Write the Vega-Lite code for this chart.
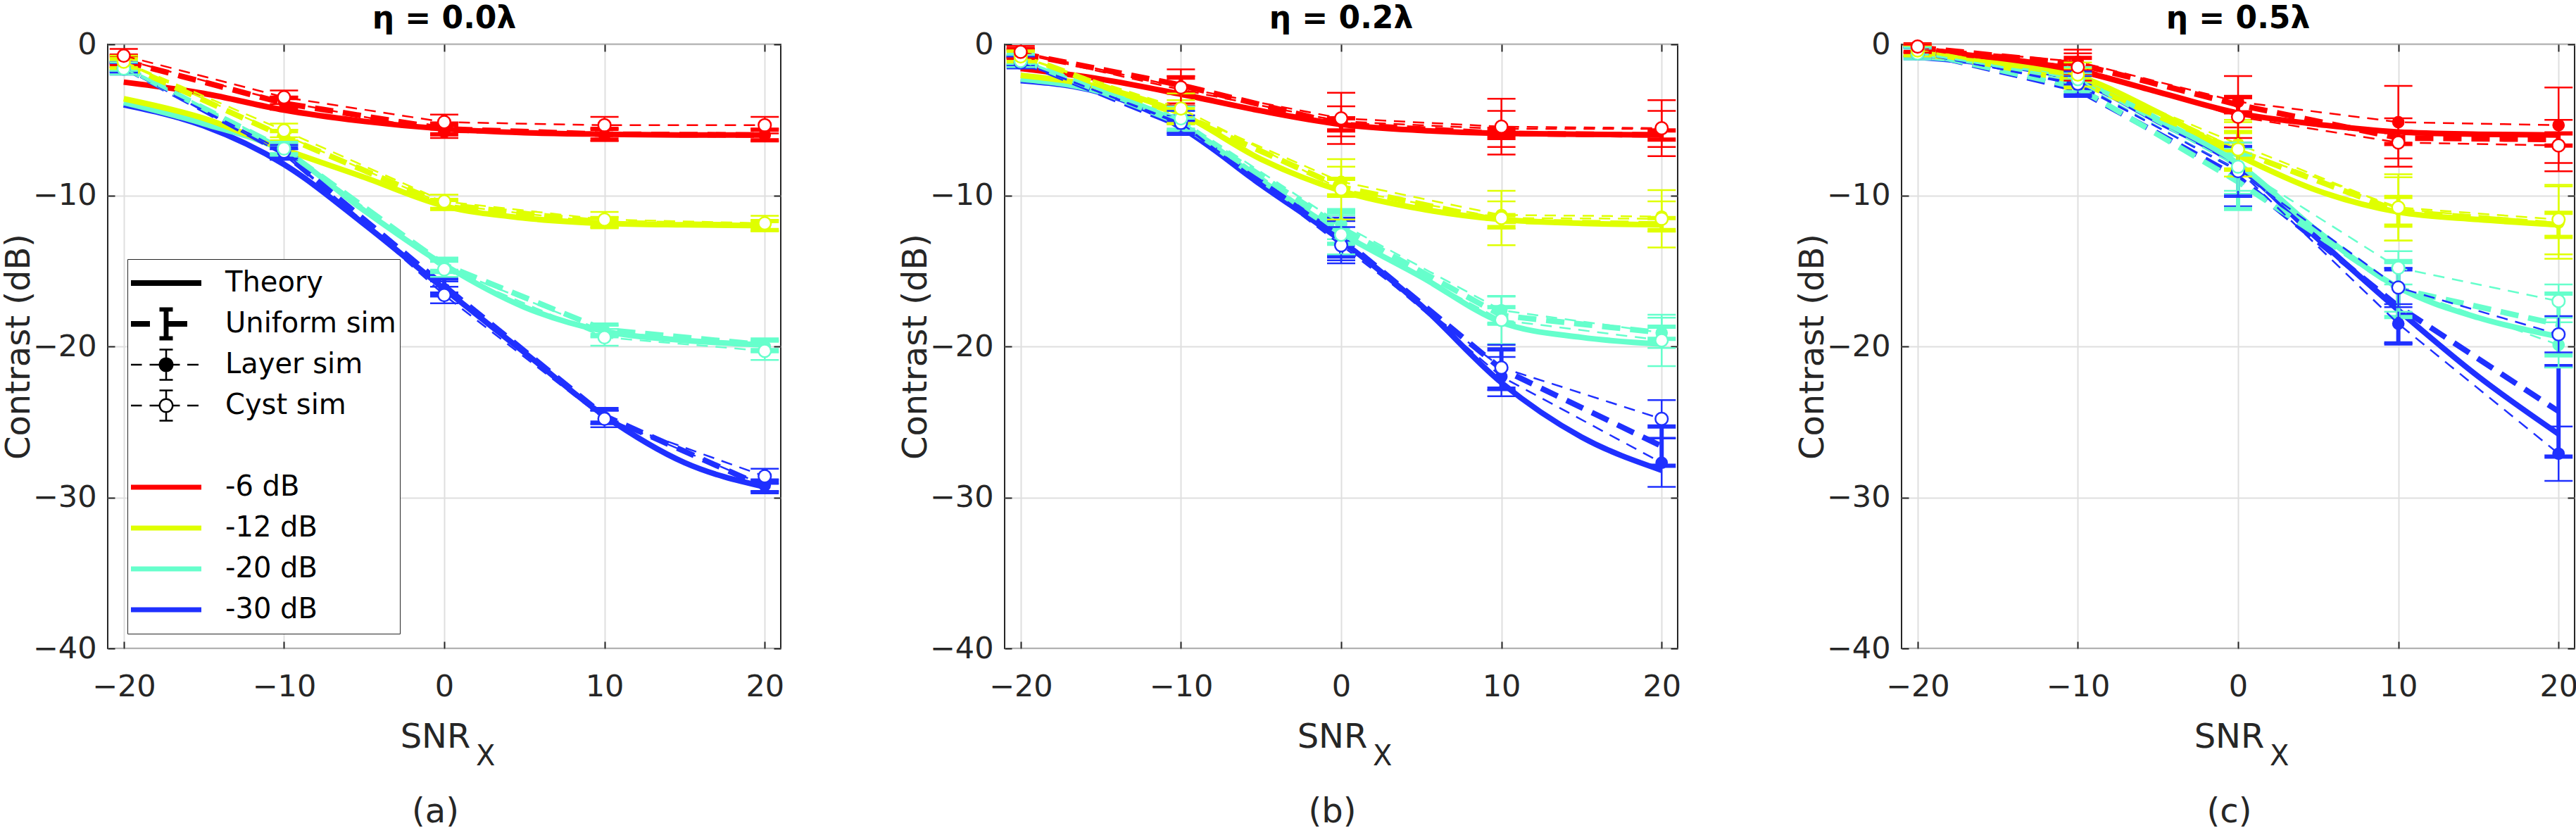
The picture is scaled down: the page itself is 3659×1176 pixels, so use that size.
{
"$schema":"https://vega.github.io/schema/vega-lite/v6.json",
"background":"white",
"padding":{"left":2,"top":4,"right":0,"bottom":0},
"config":{
 "view":{"stroke":"#262626","strokeWidth":2},
 "font":"DejaVu Sans",
 "axis":{"labelFont":"DejaVu Sans","labelFontSize":43,"labelColor":"#262626","titleFont":"DejaVu Sans","titleFontSize":48,"titleFontWeight":"normal","titleColor":"#262626","gridColor":"#dfdfdf","gridWidth":2,"tickColor":"#262626","tickWidth":2,"domain":false,"labelFlush":false,"labelOverlap":false},
 "title":{"font":"DejaVu Sans","fontSize":44,"fontWeight":"bold","color":"black","anchor":"middle","frame":"group","offset":-7,"baseline":"alphabetic"},
 "point":{"opacity":1},
 "tick":{"opacity":1}
},
"datasets":{
"lg":[{"key":"Theory"},{"key":"Uniform sim"},{"key":"Layer sim"},{"key":"Cyst sim"},{"key":" "},{"key":"-6 dB"},{"key":"-12 dB"},{"key":"-20 dB"},{"key":"-30 dB"}],
"th":[
{"p":"a","t":"-30 dB","x":-20,"y":-4.0},{"p":"a","t":"-30 dB","x":-15,"y":-5.4},{"p":"a","t":"-30 dB","x":-10,"y":-7.95},{"p":"a","t":"-30 dB","x":-5,"y":-11.9},{"p":"a","t":"-30 dB","x":0,"y":-16.2},{"p":"a","t":"-30 dB","x":5,"y":-20.4},{"p":"a","t":"-30 dB","x":10,"y":-24.6},{"p":"a","t":"-30 dB","x":15,"y":-27.7},{"p":"a","t":"-30 dB","x":20,"y":-29.3},
{"p":"a","t":"-20 dB","x":-20,"y":-3.85},{"p":"a","t":"-20 dB","x":-15,"y":-5.25},{"p":"a","t":"-20 dB","x":-10,"y":-7.1},{"p":"a","t":"-20 dB","x":-5,"y":-11.0},{"p":"a","t":"-20 dB","x":0,"y":-14.6},{"p":"a","t":"-20 dB","x":5,"y":-17.4},{"p":"a","t":"-20 dB","x":10,"y":-19.0},{"p":"a","t":"-20 dB","x":15,"y":-19.6},{"p":"a","t":"-20 dB","x":20,"y":-19.9},
{"p":"a","t":"-12 dB","x":-20,"y":-3.6},{"p":"a","t":"-12 dB","x":-15,"y":-4.9},{"p":"a","t":"-12 dB","x":-10,"y":-6.95},{"p":"a","t":"-12 dB","x":-5,"y":-8.8},{"p":"a","t":"-12 dB","x":0,"y":-10.7},{"p":"a","t":"-12 dB","x":5,"y":-11.5},{"p":"a","t":"-12 dB","x":10,"y":-11.85},{"p":"a","t":"-12 dB","x":15,"y":-11.95},{"p":"a","t":"-12 dB","x":20,"y":-12.0},
{"p":"a","t":"-6 dB","x":-20,"y":-2.5},{"p":"a","t":"-6 dB","x":-15,"y":-3.25},{"p":"a","t":"-6 dB","x":-10,"y":-4.35},{"p":"a","t":"-6 dB","x":-5,"y":-5.1},{"p":"a","t":"-6 dB","x":0,"y":-5.6},{"p":"a","t":"-6 dB","x":5,"y":-5.85},{"p":"a","t":"-6 dB","x":10,"y":-5.95},{"p":"a","t":"-6 dB","x":15,"y":-6.0},{"p":"a","t":"-6 dB","x":20,"y":-6.0},
{"p":"b","t":"-30 dB","x":-20,"y":-2.4},{"p":"b","t":"-30 dB","x":-15,"y":-3.2},{"p":"b","t":"-30 dB","x":-10,"y":-5.5},{"p":"b","t":"-30 dB","x":-5,"y":-9.3},{"p":"b","t":"-30 dB","x":0,"y":-13.0},{"p":"b","t":"-30 dB","x":5,"y":-17.3},{"p":"b","t":"-30 dB","x":10,"y":-22.4},{"p":"b","t":"-30 dB","x":15,"y":-26.0},{"p":"b","t":"-30 dB","x":20,"y":-28.2},
{"p":"b","t":"-20 dB","x":-20,"y":-2.3},{"p":"b","t":"-20 dB","x":-15,"y":-3.15},{"p":"b","t":"-20 dB","x":-10,"y":-5.3},{"p":"b","t":"-20 dB","x":-5,"y":-9.0},{"p":"b","t":"-20 dB","x":0,"y":-12.5},{"p":"b","t":"-20 dB","x":5,"y":-15.4},{"p":"b","t":"-20 dB","x":10,"y":-18.4},{"p":"b","t":"-20 dB","x":15,"y":-19.4},{"p":"b","t":"-20 dB","x":20,"y":-19.85},
{"p":"b","t":"-12 dB","x":-20,"y":-2.05},{"p":"b","t":"-12 dB","x":-15,"y":-2.85},{"p":"b","t":"-12 dB","x":-10,"y":-4.6},{"p":"b","t":"-12 dB","x":-5,"y":-7.6},{"p":"b","t":"-12 dB","x":0,"y":-9.7},{"p":"b","t":"-12 dB","x":5,"y":-10.9},{"p":"b","t":"-12 dB","x":10,"y":-11.6},{"p":"b","t":"-12 dB","x":15,"y":-11.85},{"p":"b","t":"-12 dB","x":20,"y":-11.95},
{"p":"b","t":"-6 dB","x":-20,"y":-1.6},{"p":"b","t":"-6 dB","x":-15,"y":-2.3},{"p":"b","t":"-6 dB","x":-10,"y":-3.3},{"p":"b","t":"-6 dB","x":-5,"y":-4.4},{"p":"b","t":"-6 dB","x":0,"y":-5.3},{"p":"b","t":"-6 dB","x":5,"y":-5.7},{"p":"b","t":"-6 dB","x":10,"y":-5.9},{"p":"b","t":"-6 dB","x":15,"y":-5.95},{"p":"b","t":"-6 dB","x":20,"y":-6.0},
{"p":"c","t":"-30 dB","x":-20,"y":-0.85},{"p":"c","t":"-30 dB","x":-15,"y":-1.35},{"p":"c","t":"-30 dB","x":-10,"y":-2.4},{"p":"c","t":"-30 dB","x":-5,"y":-5.1},{"p":"c","t":"-30 dB","x":0,"y":-8.05},{"p":"c","t":"-30 dB","x":5,"y":-12.9},{"p":"c","t":"-30 dB","x":10,"y":-17.6},{"p":"c","t":"-30 dB","x":15,"y":-22.0},{"p":"c","t":"-30 dB","x":20,"y":-25.8},
{"p":"c","t":"-20 dB","x":-20,"y":-0.8},{"p":"c","t":"-20 dB","x":-15,"y":-1.3},{"p":"c","t":"-20 dB","x":-10,"y":-2.3},{"p":"c","t":"-20 dB","x":-5,"y":-4.95},{"p":"c","t":"-20 dB","x":0,"y":-7.9},{"p":"c","t":"-20 dB","x":5,"y":-12.4},{"p":"c","t":"-20 dB","x":10,"y":-16.1},{"p":"c","t":"-20 dB","x":15,"y":-18.1},{"p":"c","t":"-20 dB","x":20,"y":-19.35},
{"p":"c","t":"-12 dB","x":-20,"y":-0.7},{"p":"c","t":"-12 dB","x":-15,"y":-1.15},{"p":"c","t":"-12 dB","x":-10,"y":-2.1},{"p":"c","t":"-12 dB","x":-5,"y":-4.5},{"p":"c","t":"-12 dB","x":0,"y":-7.35},{"p":"c","t":"-12 dB","x":5,"y":-9.7},{"p":"c","t":"-12 dB","x":10,"y":-11.1},{"p":"c","t":"-12 dB","x":15,"y":-11.6},{"p":"c","t":"-12 dB","x":20,"y":-11.95},
{"p":"c","t":"-6 dB","x":-20,"y":-0.45},{"p":"c","t":"-6 dB","x":-15,"y":-0.9},{"p":"c","t":"-6 dB","x":-10,"y":-1.75},{"p":"c","t":"-6 dB","x":-5,"y":-3.15},{"p":"c","t":"-6 dB","x":0,"y":-4.55},{"p":"c","t":"-6 dB","x":5,"y":-5.3},{"p":"c","t":"-6 dB","x":10,"y":-5.8},{"p":"c","t":"-6 dB","x":15,"y":-5.95},{"p":"c","t":"-6 dB","x":20,"y":-6.0}
],
"sim":[
{"p":"a","s":"U","t":"-30 dB","x":-20,"y":-1.5,"lo":-1.8,"hi":-1.2},{"p":"a","s":"U","t":"-30 dB","x":-10,"y":-7.2,"lo":-7.55,"hi":-6.85},{"p":"a","s":"U","t":"-30 dB","x":0,"y":-16.0,"lo":-16.5,"hi":-15.5},{"p":"a","s":"U","t":"-30 dB","x":10,"y":-24.6,"lo":-25.05,"hi":-24.15},{"p":"a","s":"U","t":"-30 dB","x":20,"y":-29.3,"lo":-29.65,"hi":-28.95},
{"p":"a","s":"U","t":"-20 dB","x":-20,"y":-1.5,"lo":-1.8,"hi":-1.2},{"p":"a","s":"U","t":"-20 dB","x":-10,"y":-6.95,"lo":-7.3,"hi":-6.6},{"p":"a","s":"U","t":"-20 dB","x":0,"y":-14.6,"lo":-15.0,"hi":-14.2},{"p":"a","s":"U","t":"-20 dB","x":10,"y":-18.9,"lo":-19.25,"hi":-18.55},{"p":"a","s":"U","t":"-20 dB","x":20,"y":-19.9,"lo":-20.25,"hi":-19.55},
{"p":"a","s":"U","t":"-12 dB","x":-20,"y":-1.3,"lo":-1.6,"hi":-1.0},{"p":"a","s":"U","t":"-12 dB","x":-10,"y":-6.1,"lo":-6.45,"hi":-5.75},{"p":"a","s":"U","t":"-12 dB","x":0,"y":-10.6,"lo":-10.9,"hi":-10.3},{"p":"a","s":"U","t":"-12 dB","x":10,"y":-11.8,"lo":-12.1,"hi":-11.5},{"p":"a","s":"U","t":"-12 dB","x":20,"y":-12.0,"lo":-12.3,"hi":-11.7},
{"p":"a","s":"U","t":"-6 dB","x":-20,"y":-1.1,"lo":-1.45,"hi":-0.75},{"p":"a","s":"U","t":"-6 dB","x":-10,"y":-3.9,"lo":-4.25,"hi":-3.55},{"p":"a","s":"U","t":"-6 dB","x":0,"y":-5.6,"lo":-5.95,"hi":-5.25},{"p":"a","s":"U","t":"-6 dB","x":10,"y":-5.95,"lo":-6.3,"hi":-5.6},{"p":"a","s":"U","t":"-6 dB","x":20,"y":-6.0,"lo":-6.35,"hi":-5.65},
{"p":"a","s":"L","t":"-30 dB","x":-20,"y":-1.55,"lo":-1.85,"hi":-1.25},{"p":"a","s":"L","t":"-30 dB","x":-10,"y":-7.3,"lo":-7.65,"hi":-6.95},{"p":"a","s":"L","t":"-30 dB","x":0,"y":-16.2,"lo":-16.7,"hi":-15.7},{"p":"a","s":"L","t":"-30 dB","x":10,"y":-24.7,"lo":-25.15,"hi":-24.25},{"p":"a","s":"L","t":"-30 dB","x":20,"y":-29.2,"lo":-29.6,"hi":-28.8},
{"p":"a","s":"L","t":"-20 dB","x":-20,"y":-1.45,"lo":-1.75,"hi":-1.15},{"p":"a","s":"L","t":"-20 dB","x":-10,"y":-6.85,"lo":-7.2,"hi":-6.5},{"p":"a","s":"L","t":"-20 dB","x":0,"y":-14.75,"lo":-15.15,"hi":-14.35},{"p":"a","s":"L","t":"-20 dB","x":10,"y":-19.0,"lo":-19.4,"hi":-18.6},{"p":"a","s":"L","t":"-20 dB","x":20,"y":-20.0,"lo":-20.4,"hi":-19.6},
{"p":"a","s":"L","t":"-12 dB","x":-20,"y":-1.2,"lo":-1.5,"hi":-0.9},{"p":"a","s":"L","t":"-12 dB","x":-10,"y":-6.0,"lo":-6.35,"hi":-5.65},{"p":"a","s":"L","t":"-12 dB","x":0,"y":-10.6,"lo":-10.95,"hi":-10.25},{"p":"a","s":"L","t":"-12 dB","x":10,"y":-11.8,"lo":-12.15,"hi":-11.45},{"p":"a","s":"L","t":"-12 dB","x":20,"y":-12.0,"lo":-12.35,"hi":-11.65},
{"p":"a","s":"L","t":"-6 dB","x":-20,"y":-1.0,"lo":-1.3,"hi":-0.7},{"p":"a","s":"L","t":"-6 dB","x":-10,"y":-3.8,"lo":-4.15,"hi":-3.45},{"p":"a","s":"L","t":"-6 dB","x":0,"y":-5.8,"lo":-6.2,"hi":-5.4},{"p":"a","s":"L","t":"-6 dB","x":10,"y":-6.0,"lo":-6.4,"hi":-5.6},{"p":"a","s":"L","t":"-6 dB","x":20,"y":-6.0,"lo":-6.4,"hi":-5.6},
{"p":"a","s":"C","t":"-30 dB","x":-20,"y":-1.6,"lo":-2.0,"hi":-1.2},{"p":"a","s":"C","t":"-30 dB","x":-10,"y":-7.1,"lo":-7.55,"hi":-6.65},{"p":"a","s":"C","t":"-30 dB","x":0,"y":-16.6,"lo":-17.15,"hi":-16.05},{"p":"a","s":"C","t":"-30 dB","x":10,"y":-24.8,"lo":-25.35,"hi":-24.25},{"p":"a","s":"C","t":"-30 dB","x":20,"y":-28.6,"lo":-29.1,"hi":-28.1},
{"p":"a","s":"C","t":"-20 dB","x":-20,"y":-1.6,"lo":-2.0,"hi":-1.2},{"p":"a","s":"C","t":"-20 dB","x":-10,"y":-6.9,"lo":-7.35,"hi":-6.45},{"p":"a","s":"C","t":"-20 dB","x":0,"y":-14.9,"lo":-15.4,"hi":-14.4},{"p":"a","s":"C","t":"-20 dB","x":10,"y":-19.4,"lo":-19.95,"hi":-18.85},{"p":"a","s":"C","t":"-20 dB","x":20,"y":-20.3,"lo":-20.9,"hi":-19.7},
{"p":"a","s":"C","t":"-12 dB","x":-20,"y":-1.15,"lo":-1.55,"hi":-0.75},{"p":"a","s":"C","t":"-12 dB","x":-10,"y":-5.7,"lo":-6.15,"hi":-5.25},{"p":"a","s":"C","t":"-12 dB","x":0,"y":-10.4,"lo":-10.85,"hi":-9.95},{"p":"a","s":"C","t":"-12 dB","x":10,"y":-11.6,"lo":-12.1,"hi":-11.1},{"p":"a","s":"C","t":"-12 dB","x":20,"y":-11.85,"lo":-12.35,"hi":-11.35},
{"p":"a","s":"C","t":"-6 dB","x":-20,"y":-0.75,"lo":-1.2,"hi":-0.3},{"p":"a","s":"C","t":"-6 dB","x":-10,"y":-3.5,"lo":-3.95,"hi":-3.05},{"p":"a","s":"C","t":"-6 dB","x":0,"y":-5.15,"lo":-5.65,"hi":-4.65},{"p":"a","s":"C","t":"-6 dB","x":10,"y":-5.35,"lo":-5.9,"hi":-4.8},{"p":"a","s":"C","t":"-6 dB","x":20,"y":-5.35,"lo":-5.9,"hi":-4.8},
{"p":"b","s":"U","t":"-30 dB","x":-20,"y":-1.1,"lo":-1.4,"hi":-0.8},{"p":"b","s":"U","t":"-30 dB","x":-10,"y":-5.4,"lo":-5.8,"hi":-5.0},{"p":"b","s":"U","t":"-30 dB","x":0,"y":-12.8,"lo":-14.05,"hi":-11.55},{"p":"b","s":"U","t":"-30 dB","x":10,"y":-21.5,"lo":-22.8,"hi":-20.2},{"p":"b","s":"U","t":"-30 dB","x":20,"y":-26.6,"lo":-27.9,"hi":-25.3},
{"p":"b","s":"U","t":"-20 dB","x":-20,"y":-1.0,"lo":-1.3,"hi":-0.7},{"p":"b","s":"U","t":"-20 dB","x":-10,"y":-5.25,"lo":-5.65,"hi":-4.85},{"p":"b","s":"U","t":"-20 dB","x":0,"y":-12.15,"lo":-13.2,"hi":-11.1},{"p":"b","s":"U","t":"-20 dB","x":10,"y":-17.95,"lo":-18.5,"hi":-17.4},{"p":"b","s":"U","t":"-20 dB","x":20,"y":-19.1,"lo":-19.5,"hi":-18.7},
{"p":"b","s":"U","t":"-12 dB","x":-20,"y":-0.7,"lo":-1.0,"hi":-0.4},{"p":"b","s":"U","t":"-12 dB","x":-10,"y":-4.7,"lo":-5.2,"hi":-4.2},{"p":"b","s":"U","t":"-12 dB","x":0,"y":-9.45,"lo":-10.0,"hi":-8.9},{"p":"b","s":"U","t":"-12 dB","x":10,"y":-11.7,"lo":-12.1,"hi":-11.3},{"p":"b","s":"U","t":"-12 dB","x":20,"y":-11.9,"lo":-12.3,"hi":-11.5},
{"p":"b","s":"U","t":"-6 dB","x":-20,"y":-0.6,"lo":-0.9,"hi":-0.3},{"p":"b","s":"U","t":"-6 dB","x":-10,"y":-2.7,"lo":-3.2,"hi":-2.2},{"p":"b","s":"U","t":"-6 dB","x":0,"y":-5.3,"lo":-5.7,"hi":-4.9},{"p":"b","s":"U","t":"-6 dB","x":10,"y":-5.9,"lo":-6.2,"hi":-5.6},{"p":"b","s":"U","t":"-6 dB","x":20,"y":-6.0,"lo":-6.3,"hi":-5.7},
{"p":"b","s":"L","t":"-30 dB","x":-20,"y":-1.1,"lo":-1.4,"hi":-0.8},{"p":"b","s":"L","t":"-30 dB","x":-10,"y":-5.3,"lo":-5.9,"hi":-4.7},{"p":"b","s":"L","t":"-30 dB","x":0,"y":-13.0,"lo":-14.3,"hi":-11.7},{"p":"b","s":"L","t":"-30 dB","x":10,"y":-22.0,"lo":-23.3,"hi":-20.7},{"p":"b","s":"L","t":"-30 dB","x":20,"y":-27.7,"lo":-29.3,"hi":-26.1},
{"p":"b","s":"L","t":"-20 dB","x":-20,"y":-1.0,"lo":-1.3,"hi":-0.7},{"p":"b","s":"L","t":"-20 dB","x":-10,"y":-5.0,"lo":-5.6,"hi":-4.4},{"p":"b","s":"L","t":"-20 dB","x":0,"y":-11.9,"lo":-12.9,"hi":-10.9},{"p":"b","s":"L","t":"-20 dB","x":10,"y":-17.6,"lo":-18.5,"hi":-16.7},{"p":"b","s":"L","t":"-20 dB","x":20,"y":-19.1,"lo":-20.1,"hi":-18.1},
{"p":"b","s":"L","t":"-12 dB","x":-20,"y":-0.8,"lo":-1.1,"hi":-0.5},{"p":"b","s":"L","t":"-12 dB","x":-10,"y":-4.5,"lo":-5.3,"hi":-3.7},{"p":"b","s":"L","t":"-12 dB","x":0,"y":-9.1,"lo":-10.1,"hi":-8.1},{"p":"b","s":"L","t":"-12 dB","x":10,"y":-11.3,"lo":-12.2,"hi":-10.4},{"p":"b","s":"L","t":"-12 dB","x":20,"y":-11.4,"lo":-12.4,"hi":-10.4},
{"p":"b","s":"L","t":"-6 dB","x":-20,"y":-0.6,"lo":-0.9,"hi":-0.3},{"p":"b","s":"L","t":"-6 dB","x":-10,"y":-3.0,"lo":-3.9,"hi":-2.1},{"p":"b","s":"L","t":"-6 dB","x":0,"y":-5.1,"lo":-6.1,"hi":-4.1},{"p":"b","s":"L","t":"-6 dB","x":10,"y":-5.6,"lo":-6.8,"hi":-4.4},{"p":"b","s":"L","t":"-6 dB","x":20,"y":-5.6,"lo":-6.8,"hi":-4.4},
{"p":"b","s":"C","t":"-30 dB","x":-20,"y":-1.2,"lo":-1.6,"hi":-0.8},{"p":"b","s":"C","t":"-30 dB","x":-10,"y":-5.2,"lo":-6.0,"hi":-4.4},{"p":"b","s":"C","t":"-30 dB","x":0,"y":-13.3,"lo":-14.5,"hi":-12.1},{"p":"b","s":"C","t":"-30 dB","x":10,"y":-21.4,"lo":-22.9,"hi":-19.9},{"p":"b","s":"C","t":"-30 dB","x":20,"y":-24.8,"lo":-26.05,"hi":-23.55},
{"p":"b","s":"C","t":"-20 dB","x":-20,"y":-1.1,"lo":-1.5,"hi":-0.7},{"p":"b","s":"C","t":"-20 dB","x":-10,"y":-4.9,"lo":-5.7,"hi":-4.1},{"p":"b","s":"C","t":"-20 dB","x":0,"y":-12.6,"lo":-13.9,"hi":-11.3},{"p":"b","s":"C","t":"-20 dB","x":10,"y":-18.25,"lo":-19.85,"hi":-16.65},{"p":"b","s":"C","t":"-20 dB","x":20,"y":-19.6,"lo":-21.3,"hi":-17.9},
{"p":"b","s":"C","t":"-12 dB","x":-20,"y":-0.8,"lo":-1.2,"hi":-0.4},{"p":"b","s":"C","t":"-12 dB","x":-10,"y":-4.25,"lo":-5.25,"hi":-3.25},{"p":"b","s":"C","t":"-12 dB","x":0,"y":-9.6,"lo":-11.6,"hi":-7.6},{"p":"b","s":"C","t":"-12 dB","x":10,"y":-11.5,"lo":-13.3,"hi":-9.7},{"p":"b","s":"C","t":"-12 dB","x":20,"y":-11.55,"lo":-13.45,"hi":-9.65},
{"p":"b","s":"C","t":"-6 dB","x":-20,"y":-0.5,"lo":-0.9,"hi":-0.1},{"p":"b","s":"C","t":"-6 dB","x":-10,"y":-2.85,"lo":-4.05,"hi":-1.65},{"p":"b","s":"C","t":"-6 dB","x":0,"y":-4.9,"lo":-6.6,"hi":-3.2},{"p":"b","s":"C","t":"-6 dB","x":10,"y":-5.45,"lo":-7.3,"hi":-3.6},{"p":"b","s":"C","t":"-6 dB","x":20,"y":-5.55,"lo":-7.4,"hi":-3.7},
{"p":"c","s":"U","t":"-30 dB","x":-20,"y":-0.5,"lo":-0.8,"hi":-0.2},{"p":"c","s":"U","t":"-30 dB","x":-10,"y":-3.0,"lo":-3.4,"hi":-2.6},{"p":"c","s":"U","t":"-30 dB","x":0,"y":-8.8,"lo":-10.8,"hi":-6.8},{"p":"c","s":"U","t":"-30 dB","x":10,"y":-17.35,"lo":-19.8,"hi":-14.9},{"p":"c","s":"U","t":"-30 dB","x":20,"y":-24.3,"lo":-27.3,"hi":-21.3},
{"p":"c","s":"U","t":"-20 dB","x":-20,"y":-0.5,"lo":-0.8,"hi":-0.2},{"p":"c","s":"U","t":"-20 dB","x":-10,"y":-2.85,"lo":-3.25,"hi":-2.45},{"p":"c","s":"U","t":"-20 dB","x":0,"y":-9.1,"lo":-10.9,"hi":-7.3},{"p":"c","s":"U","t":"-20 dB","x":10,"y":-16.2,"lo":-18.05,"hi":-14.35},{"p":"c","s":"U","t":"-20 dB","x":20,"y":-18.55,"lo":-20.6,"hi":-16.5},
{"p":"c","s":"U","t":"-12 dB","x":-20,"y":-0.4,"lo":-0.7,"hi":-0.1},{"p":"c","s":"U","t":"-12 dB","x":-10,"y":-2.45,"lo":-2.85,"hi":-2.05},{"p":"c","s":"U","t":"-12 dB","x":0,"y":-7.05,"lo":-8.3,"hi":-5.8},{"p":"c","s":"U","t":"-12 dB","x":10,"y":-11.05,"lo":-12.0,"hi":-10.1},{"p":"c","s":"U","t":"-12 dB","x":20,"y":-11.95,"lo":-12.75,"hi":-11.15},
{"p":"c","s":"U","t":"-6 dB","x":-20,"y":-0.2,"lo":-0.5,"hi":0.0},{"p":"c","s":"U","t":"-6 dB","x":-10,"y":-1.3,"lo":-1.7,"hi":-0.9},{"p":"c","s":"U","t":"-6 dB","x":0,"y":-4.0,"lo":-4.5,"hi":-3.5},{"p":"c","s":"U","t":"-6 dB","x":10,"y":-6.2,"lo":-6.6,"hi":-5.8},{"p":"c","s":"U","t":"-6 dB","x":20,"y":-6.3,"lo":-6.7,"hi":-5.9},
{"p":"c","s":"L","t":"-30 dB","x":-20,"y":-0.5,"lo":-0.8,"hi":-0.2},{"p":"c","s":"L","t":"-30 dB","x":-10,"y":-2.7,"lo":-3.3,"hi":-2.1},{"p":"c","s":"L","t":"-30 dB","x":0,"y":-8.3,"lo":-10.1,"hi":-6.5},{"p":"c","s":"L","t":"-30 dB","x":10,"y":-18.5,"lo":-19.8,"hi":-17.2},{"p":"c","s":"L","t":"-30 dB","x":20,"y":-27.1,"lo":-28.9,"hi":-25.3},
{"p":"c","s":"L","t":"-20 dB","x":-20,"y":-0.5,"lo":-0.8,"hi":-0.2},{"p":"c","s":"L","t":"-20 dB","x":-10,"y":-2.5,"lo":-3.1,"hi":-1.9},{"p":"c","s":"L","t":"-20 dB","x":0,"y":-8.4,"lo":-9.9,"hi":-6.9},{"p":"c","s":"L","t":"-20 dB","x":10,"y":-16.1,"lo":-17.7,"hi":-14.5},{"p":"c","s":"L","t":"-20 dB","x":20,"y":-19.9,"lo":-21.4,"hi":-18.4},
{"p":"c","s":"L","t":"-12 dB","x":-20,"y":-0.45,"lo":-0.75,"hi":-0.15},{"p":"c","s":"L","t":"-12 dB","x":-10,"y":-2.2,"lo":-2.8,"hi":-1.6},{"p":"c","s":"L","t":"-12 dB","x":0,"y":-6.6,"lo":-8.2,"hi":-5.0},{"p":"c","s":"L","t":"-12 dB","x":10,"y":-10.9,"lo":-13.0,"hi":-8.8},{"p":"c","s":"L","t":"-12 dB","x":20,"y":-11.8,"lo":-14.2,"hi":-9.4},
{"p":"c","s":"L","t":"-6 dB","x":-20,"y":-0.2,"lo":-0.5,"hi":0.0},{"p":"c","s":"L","t":"-6 dB","x":-10,"y":-1.15,"lo":-1.95,"hi":-0.35},{"p":"c","s":"L","t":"-6 dB","x":0,"y":-3.8,"lo":-5.5,"hi":-2.1},{"p":"c","s":"L","t":"-6 dB","x":10,"y":-5.15,"lo":-7.55,"hi":-2.75},{"p":"c","s":"L","t":"-6 dB","x":20,"y":-5.35,"lo":-7.85,"hi":-2.85},
{"p":"c","s":"C","t":"-30 dB","x":-20,"y":-0.6,"lo":-1.0,"hi":-0.2},{"p":"c","s":"C","t":"-30 dB","x":-10,"y":-2.6,"lo":-3.4,"hi":-1.8},{"p":"c","s":"C","t":"-30 dB","x":0,"y":-8.4,"lo":-10.0,"hi":-6.8},{"p":"c","s":"C","t":"-30 dB","x":10,"y":-16.1,"lo":-17.4,"hi":-14.8},{"p":"c","s":"C","t":"-30 dB","x":20,"y":-19.2,"lo":-20.4,"hi":-18.0},
{"p":"c","s":"C","t":"-20 dB","x":-20,"y":-0.6,"lo":-1.0,"hi":-0.2},{"p":"c","s":"C","t":"-20 dB","x":-10,"y":-2.3,"lo":-3.1,"hi":-1.5},{"p":"c","s":"C","t":"-20 dB","x":0,"y":-8.1,"lo":-9.7,"hi":-6.5},{"p":"c","s":"C","t":"-20 dB","x":10,"y":-14.8,"lo":-15.9,"hi":-13.7},{"p":"c","s":"C","t":"-20 dB","x":20,"y":-17.0,"lo":-18.1,"hi":-15.9},
{"p":"c","s":"C","t":"-12 dB","x":-20,"y":-0.4,"lo":-0.8,"hi":0.0},{"p":"c","s":"C","t":"-12 dB","x":-10,"y":-2.0,"lo":-2.8,"hi":-1.2},{"p":"c","s":"C","t":"-12 dB","x":0,"y":-6.95,"lo":-8.75,"hi":-5.15},{"p":"c","s":"C","t":"-12 dB","x":10,"y":-10.8,"lo":-13.0,"hi":-8.6},{"p":"c","s":"C","t":"-12 dB","x":20,"y":-11.6,"lo":-13.9,"hi":-9.3},
{"p":"c","s":"C","t":"-6 dB","x":-20,"y":-0.15,"lo":-0.55,"hi":0.0},{"p":"c","s":"C","t":"-6 dB","x":-10,"y":-1.5,"lo":-2.4,"hi":-0.6},{"p":"c","s":"C","t":"-6 dB","x":0,"y":-4.8,"lo":-6.2,"hi":-3.4},{"p":"c","s":"C","t":"-6 dB","x":10,"y":-6.5,"lo":-8.1,"hi":-4.9},{"p":"c","s":"C","t":"-6 dB","x":20,"y":-6.7,"lo":-8.4,"hi":-5.0}
]
},
"resolve":{"scale":{"color":"independent"}},
"bounds":"flush",
"spacing":318,
"hconcat":[
{"width":956,"height":858,"title":{"text":"η = 0.0λ"},
"resolve":{"axis":{"x":"independent","y":"independent"},"scale":{"color":"independent","shape":"independent"}},
"layer":[
{"data":{"name":"th"},"transform":[{"filter":"datum.p==='a'"}],"mark":{"type":"line","strokeWidth":8,"interpolate":"monotone","strokeJoin":"round"},"encoding":{"x":{"field":"x","type":"quantitative","scale":{"domain":[-21,21],"nice":false,"zero":false},"axis":{"values":[-20,-10,0,10,20],"grid":true,"ticks":true,"tickSize":-10,"labelPadding":43,"title":["SNR","(a)"],"titleX":465,"titleY":140,"titleAlign":"center","titleBaseline":"alphabetic","titleLineHeight":106,"titleAngle":0}},"y":{"field":"y","type":"quantitative","scale":{"domain":[-40,0],"nice":false,"zero":false},"axis":{"values":[0,-10,-20,-30,-40],"grid":true,"ticks":true,"tickSize":-10,"labelPadding":26,"title":"Contrast (dB)","titleX":-112,"titleY":429,"titleAngle":270,"titleAlign":"center","titleBaseline":"alphabetic"}},"color":{"field":"t","type":"nominal","scale":{"domain":["-30 dB","-20 dB","-12 dB","-6 dB"],"range":["#1F30FF","#66FFCC","#DFFF00","#FF0000"]},"legend":null}}},
{"data":{"name":"sim"},"transform":[{"filter":"datum.p==='a' && datum.s==='U'"}],"mark":{"type":"line","strokeWidth":8,"strokeDash":[26,14]},"encoding":{"x":{"field":"x","type":"quantitative","scale":{"domain":[-21,21],"nice":false,"zero":false},"axis":null},"y":{"field":"y","type":"quantitative","scale":{"domain":[-40,0],"nice":false,"zero":false},"axis":null},"color":{"field":"t","type":"nominal","scale":{"domain":["-30 dB","-20 dB","-12 dB","-6 dB"],"range":["#1F30FF","#66FFCC","#DFFF00","#FF0000"]},"legend":null}}},
{"data":{"name":"sim"},"transform":[{"filter":"datum.p==='a' && datum.s==='U'"}],"mark":{"type":"errorbar","ticks":true,"size":40,"thickness":6},"encoding":{"x":{"field":"x","type":"quantitative","scale":{"domain":[-21,21],"nice":false,"zero":false},"axis":null},"y":{"field":"lo","type":"quantitative","scale":{"domain":[-40,0],"nice":false,"zero":false},"axis":null},"y2":{"field":"hi"},"color":{"field":"t","type":"nominal","scale":{"domain":["-30 dB","-20 dB","-12 dB","-6 dB"],"range":["#1F30FF","#66FFCC","#DFFF00","#FF0000"]},"legend":null}}},
{"data":{"name":"sim"},"transform":[{"filter":"datum.p==='a' && datum.s==='L'"}],"mark":{"type":"line","strokeWidth":2.5,"strokeDash":[16,11]},"encoding":{"x":{"field":"x","type":"quantitative","scale":{"domain":[-21,21],"nice":false,"zero":false},"axis":null},"y":{"field":"y","type":"quantitative","scale":{"domain":[-40,0],"nice":false,"zero":false},"axis":null},"color":{"field":"t","type":"nominal","scale":{"domain":["-30 dB","-20 dB","-12 dB","-6 dB"],"range":["#1F30FF","#66FFCC","#DFFF00","#FF0000"]},"legend":null}}},
{"data":{"name":"sim"},"transform":[{"filter":"datum.p==='a' && datum.s==='L'"}],"mark":{"type":"errorbar","ticks":true,"size":40,"thickness":2.5},"encoding":{"x":{"field":"x","type":"quantitative","scale":{"domain":[-21,21],"nice":false,"zero":false},"axis":null},"y":{"field":"lo","type":"quantitative","scale":{"domain":[-40,0],"nice":false,"zero":false},"axis":null},"y2":{"field":"hi"},"color":{"field":"t","type":"nominal","scale":{"domain":["-30 dB","-20 dB","-12 dB","-6 dB"],"range":["#1F30FF","#66FFCC","#DFFF00","#FF0000"]},"legend":null}}},
{"data":{"name":"sim"},"transform":[{"filter":"datum.p==='a' && datum.s==='L'"}],"mark":{"type":"point","filled":true,"size":314,"opacity":1},"encoding":{"x":{"field":"x","type":"quantitative","scale":{"domain":[-21,21],"nice":false,"zero":false},"axis":null},"y":{"field":"y","type":"quantitative","scale":{"domain":[-40,0],"nice":false,"zero":false},"axis":null},"color":{"field":"t","type":"nominal","scale":{"domain":["-30 dB","-20 dB","-12 dB","-6 dB"],"range":["#1F30FF","#66FFCC","#DFFF00","#FF0000"]},"legend":null}}},
{"data":{"name":"sim"},"transform":[{"filter":"datum.p==='a' && datum.s==='C'"}],"mark":{"type":"line","strokeWidth":2.5,"strokeDash":[16,11]},"encoding":{"x":{"field":"x","type":"quantitative","scale":{"domain":[-21,21],"nice":false,"zero":false},"axis":null},"y":{"field":"y","type":"quantitative","scale":{"domain":[-40,0],"nice":false,"zero":false},"axis":null},"color":{"field":"t","type":"nominal","scale":{"domain":["-30 dB","-20 dB","-12 dB","-6 dB"],"range":["#1F30FF","#66FFCC","#DFFF00","#FF0000"]},"legend":null}}},
{"data":{"name":"sim"},"transform":[{"filter":"datum.p==='a' && datum.s==='C'"}],"mark":{"type":"errorbar","ticks":true,"size":40,"thickness":2.5},"encoding":{"x":{"field":"x","type":"quantitative","scale":{"domain":[-21,21],"nice":false,"zero":false},"axis":null},"y":{"field":"lo","type":"quantitative","scale":{"domain":[-40,0],"nice":false,"zero":false},"axis":null},"y2":{"field":"hi"},"color":{"field":"t","type":"nominal","scale":{"domain":["-30 dB","-20 dB","-12 dB","-6 dB"],"range":["#1F30FF","#66FFCC","#DFFF00","#FF0000"]},"legend":null}}},
{"data":{"name":"sim"},"transform":[{"filter":"datum.p==='a' && datum.s==='C'"}],"mark":{"type":"point","filled":false,"fill":"white","strokeWidth":2.5,"size":314,"opacity":1},"encoding":{"x":{"field":"x","type":"quantitative","scale":{"domain":[-21,21],"nice":false,"zero":false},"axis":null},"y":{"field":"y","type":"quantitative","scale":{"domain":[-40,0],"nice":false,"zero":false},"axis":null},"color":{"field":"t","type":"nominal","scale":{"domain":["-30 dB","-20 dB","-12 dB","-6 dB"],"range":["#1F30FF","#66FFCC","#DFFF00","#FF0000"]},"legend":null}}},
{"data":{"values":[{}]},"mark":{"type":"text","text":"X","align":"left","baseline":"alphabetic","font":"DejaVu Sans","fontSize":40,"color":"#262626"},"encoding":{"x":{"datum":1.98,"type":"quantitative","scale":{"domain":[-21,21],"nice":false,"zero":false},"axis":{"orient":"top","values":[-20,-10,0,10,20],"labels":false,"ticks":true,"tickSize":-10,"grid":false,"domain":false,"title":null}},"y":{"datum":-47.74,"type":"quantitative","scale":{"domain":[-40,0],"nice":false,"zero":false},"axis":{"orient":"right","values":[0,-10,-20,-30,-40],"labels":false,"ticks":true,"tickSize":-10,"grid":false,"domain":false,"title":null}}}},
{"data":{"name":"lg"},"mark":{"type":"point","filled":true,"opacity":0,"strokeWidth":0},"encoding":{
"color":{"field":"key","type":"nominal","scale":{"domain":["Theory","Uniform sim","Layer sim","Cyst sim"," ","-6 dB","-12 dB","-20 dB","-30 dB"],"range":["black","black","black","black","transparent","#FF0000","#DFFF00","#66FFCC","#1F30FF"]},"legend":{"orient":"none","legendX":28,"legendY":305,"title":null,"symbolSize":3318,"symbolOffset":21,"symbolStrokeWidth":0,"symbolOpacity":1,"labelFont":"DejaVu Sans","labelFontSize":40,"labelColor":"black","labelOffset":55,"labelLimit":500,"rowPadding":0,"padding":5,"strokeColor":"#262626","fillColor":"white"}},
"shape":{"field":"key","type":"nominal","scale":{"domain":["Theory","Uniform sim","Layer sim","Cyst sim"," ","-6 dB","-12 dB","-20 dB","-30 dB"],"range":[
"M0,-1M0,1M-1.736,-0.139H1.736V0.139H-1.736Z",
"M0,-1M0,1M-1.736,-0.139H-0.8V0.139H-1.736ZM-0.035,-0.139H1.04V0.139H-0.035ZM-0.12,-0.73H0.12V0.73H-0.12ZM-0.33,-0.816H0.33V-0.608H-0.33ZM-0.33,0.608H0.33V0.816H-0.33Z",
"M0,-1M0,1M-1.736,-0.0434H-1.198V0.0434H-1.736ZM-0.816,-0.0434H0.677V0.0434H-0.816ZM1.042,-0.0434H1.597V0.0434H1.042ZM-0.0434,-0.747H0.0434V0.747H-0.0434ZM-0.33,-0.79H0.33V-0.703H-0.33ZM-0.33,0.703H0.33V0.79H-0.33ZM0.365,0A0.365,0.365 0 1,1 -0.365,0A0.365,0.365 0 1,1 0.365,0Z",
"M0,-1M0,1M-1.736,-0.0434H-1.198V0.0434H-1.736ZM-0.816,-0.0434H-0.347V0.0434H-0.816ZM0.347,-0.0434H0.677V0.0434H0.347ZM1.042,-0.0434H1.597V0.0434H1.042ZM-0.0434,-0.747H0.0434V-0.347H-0.0434ZM-0.0434,0.347H0.0434V0.747H-0.0434ZM-0.33,-0.79H0.33V-0.703H-0.33ZM-0.33,0.703H0.33V0.79H-0.33ZM0.365,0A0.365,0.365 0 1,1 -0.365,0A0.365,0.365 0 1,1 0.365,0ZM0.278,0A0.278,0.278 0 1,0 -0.278,0A0.278,0.278 0 1,0 0.278,0Z",
"M0,-1M0,1",
"M0,-1M0,1M-1.736,-0.1215H1.736V0.1215H-1.736Z",
"M0,-1M0,1M-1.736,-0.1215H1.736V0.1215H-1.736Z",
"M0,-1M0,1M-1.736,-0.1215H1.736V0.1215H-1.736Z",
"M0,-1M0,1M-1.736,-0.1215H1.736V0.1215H-1.736Z"]},"legend":{"orient":"none","legendX":28,"legendY":305,"title":null,"symbolSize":3318,"symbolOffset":21,"symbolStrokeWidth":0,"symbolOpacity":1,"labelFont":"DejaVu Sans","labelFontSize":40,"labelColor":"black","labelOffset":55,"labelLimit":500,"rowPadding":0,"padding":5,"strokeColor":"#262626","fillColor":"white"}}}}
]},
{"width":956,"height":858,"title":{"text":"η = 0.2λ"},
"resolve":{"axis":{"x":"independent","y":"independent"},"scale":{"color":"independent"}},
"layer":[
{"data":{"name":"th"},"transform":[{"filter":"datum.p==='b'"}],"mark":{"type":"line","strokeWidth":8,"interpolate":"monotone","strokeJoin":"round"},"encoding":{"x":{"field":"x","type":"quantitative","scale":{"domain":[-21,21],"nice":false,"zero":false},"axis":{"values":[-20,-10,0,10,20],"grid":true,"ticks":true,"tickSize":-10,"labelPadding":43,"title":["SNR","(b)"],"titleX":465,"titleY":140,"titleAlign":"center","titleBaseline":"alphabetic","titleLineHeight":106,"titleAngle":0}},"y":{"field":"y","type":"quantitative","scale":{"domain":[-40,0],"nice":false,"zero":false},"axis":{"values":[0,-10,-20,-30,-40],"grid":true,"ticks":true,"tickSize":-10,"labelPadding":26,"title":"Contrast (dB)","titleX":-112,"titleY":429,"titleAngle":270,"titleAlign":"center","titleBaseline":"alphabetic"}},"color":{"field":"t","type":"nominal","scale":{"domain":["-30 dB","-20 dB","-12 dB","-6 dB"],"range":["#1F30FF","#66FFCC","#DFFF00","#FF0000"]},"legend":null}}},
{"data":{"name":"sim"},"transform":[{"filter":"datum.p==='b' && datum.s==='U'"}],"mark":{"type":"line","strokeWidth":8,"strokeDash":[26,14]},"encoding":{"x":{"field":"x","type":"quantitative","scale":{"domain":[-21,21],"nice":false,"zero":false},"axis":null},"y":{"field":"y","type":"quantitative","scale":{"domain":[-40,0],"nice":false,"zero":false},"axis":null},"color":{"field":"t","type":"nominal","scale":{"domain":["-30 dB","-20 dB","-12 dB","-6 dB"],"range":["#1F30FF","#66FFCC","#DFFF00","#FF0000"]},"legend":null}}},
{"data":{"name":"sim"},"transform":[{"filter":"datum.p==='b' && datum.s==='U'"}],"mark":{"type":"errorbar","ticks":true,"size":40,"thickness":6},"encoding":{"x":{"field":"x","type":"quantitative","scale":{"domain":[-21,21],"nice":false,"zero":false},"axis":null},"y":{"field":"lo","type":"quantitative","scale":{"domain":[-40,0],"nice":false,"zero":false},"axis":null},"y2":{"field":"hi"},"color":{"field":"t","type":"nominal","scale":{"domain":["-30 dB","-20 dB","-12 dB","-6 dB"],"range":["#1F30FF","#66FFCC","#DFFF00","#FF0000"]},"legend":null}}},
{"data":{"name":"sim"},"transform":[{"filter":"datum.p==='b' && datum.s==='L'"}],"mark":{"type":"line","strokeWidth":2.5,"strokeDash":[16,11]},"encoding":{"x":{"field":"x","type":"quantitative","scale":{"domain":[-21,21],"nice":false,"zero":false},"axis":null},"y":{"field":"y","type":"quantitative","scale":{"domain":[-40,0],"nice":false,"zero":false},"axis":null},"color":{"field":"t","type":"nominal","scale":{"domain":["-30 dB","-20 dB","-12 dB","-6 dB"],"range":["#1F30FF","#66FFCC","#DFFF00","#FF0000"]},"legend":null}}},
{"data":{"name":"sim"},"transform":[{"filter":"datum.p==='b' && datum.s==='L'"}],"mark":{"type":"errorbar","ticks":true,"size":40,"thickness":2.5},"encoding":{"x":{"field":"x","type":"quantitative","scale":{"domain":[-21,21],"nice":false,"zero":false},"axis":null},"y":{"field":"lo","type":"quantitative","scale":{"domain":[-40,0],"nice":false,"zero":false},"axis":null},"y2":{"field":"hi"},"color":{"field":"t","type":"nominal","scale":{"domain":["-30 dB","-20 dB","-12 dB","-6 dB"],"range":["#1F30FF","#66FFCC","#DFFF00","#FF0000"]},"legend":null}}},
{"data":{"name":"sim"},"transform":[{"filter":"datum.p==='b' && datum.s==='L'"}],"mark":{"type":"point","filled":true,"size":314,"opacity":1},"encoding":{"x":{"field":"x","type":"quantitative","scale":{"domain":[-21,21],"nice":false,"zero":false},"axis":null},"y":{"field":"y","type":"quantitative","scale":{"domain":[-40,0],"nice":false,"zero":false},"axis":null},"color":{"field":"t","type":"nominal","scale":{"domain":["-30 dB","-20 dB","-12 dB","-6 dB"],"range":["#1F30FF","#66FFCC","#DFFF00","#FF0000"]},"legend":null}}},
{"data":{"name":"sim"},"transform":[{"filter":"datum.p==='b' && datum.s==='C'"}],"mark":{"type":"line","strokeWidth":2.5,"strokeDash":[16,11]},"encoding":{"x":{"field":"x","type":"quantitative","scale":{"domain":[-21,21],"nice":false,"zero":false},"axis":null},"y":{"field":"y","type":"quantitative","scale":{"domain":[-40,0],"nice":false,"zero":false},"axis":null},"color":{"field":"t","type":"nominal","scale":{"domain":["-30 dB","-20 dB","-12 dB","-6 dB"],"range":["#1F30FF","#66FFCC","#DFFF00","#FF0000"]},"legend":null}}},
{"data":{"name":"sim"},"transform":[{"filter":"datum.p==='b' && datum.s==='C'"}],"mark":{"type":"errorbar","ticks":true,"size":40,"thickness":2.5},"encoding":{"x":{"field":"x","type":"quantitative","scale":{"domain":[-21,21],"nice":false,"zero":false},"axis":null},"y":{"field":"lo","type":"quantitative","scale":{"domain":[-40,0],"nice":false,"zero":false},"axis":null},"y2":{"field":"hi"},"color":{"field":"t","type":"nominal","scale":{"domain":["-30 dB","-20 dB","-12 dB","-6 dB"],"range":["#1F30FF","#66FFCC","#DFFF00","#FF0000"]},"legend":null}}},
{"data":{"name":"sim"},"transform":[{"filter":"datum.p==='b' && datum.s==='C'"}],"mark":{"type":"point","filled":false,"fill":"white","strokeWidth":2.5,"size":314,"opacity":1},"encoding":{"x":{"field":"x","type":"quantitative","scale":{"domain":[-21,21],"nice":false,"zero":false},"axis":null},"y":{"field":"y","type":"quantitative","scale":{"domain":[-40,0],"nice":false,"zero":false},"axis":null},"color":{"field":"t","type":"nominal","scale":{"domain":["-30 dB","-20 dB","-12 dB","-6 dB"],"range":["#1F30FF","#66FFCC","#DFFF00","#FF0000"]},"legend":null}}},
{"data":{"values":[{}]},"mark":{"type":"text","text":"X","align":"left","baseline":"alphabetic","font":"DejaVu Sans","fontSize":40,"color":"#262626"},"encoding":{"x":{"datum":1.98,"type":"quantitative","scale":{"domain":[-21,21],"nice":false,"zero":false},"axis":{"orient":"top","values":[-20,-10,0,10,20],"labels":false,"ticks":true,"tickSize":-10,"grid":false,"domain":false,"title":null}},"y":{"datum":-47.74,"type":"quantitative","scale":{"domain":[-40,0],"nice":false,"zero":false},"axis":{"orient":"right","values":[0,-10,-20,-30,-40],"labels":false,"ticks":true,"tickSize":-10,"grid":false,"domain":false,"title":null}}}}
]},
{"width":956,"height":858,"title":{"text":"η = 0.5λ"},
"resolve":{"axis":{"x":"independent","y":"independent"},"scale":{"color":"independent"}},
"layer":[
{"data":{"name":"th"},"transform":[{"filter":"datum.p==='c'"}],"mark":{"type":"line","strokeWidth":8,"interpolate":"monotone","strokeJoin":"round"},"encoding":{"x":{"field":"x","type":"quantitative","scale":{"domain":[-21,21],"nice":false,"zero":false},"axis":{"values":[-20,-10,0,10,20],"grid":true,"ticks":true,"tickSize":-10,"labelPadding":43,"title":["SNR","(c)"],"titleX":465,"titleY":140,"titleAlign":"center","titleBaseline":"alphabetic","titleLineHeight":106,"titleAngle":0}},"y":{"field":"y","type":"quantitative","scale":{"domain":[-40,0],"nice":false,"zero":false},"axis":{"values":[0,-10,-20,-30,-40],"grid":true,"ticks":true,"tickSize":-10,"labelPadding":26,"title":"Contrast (dB)","titleX":-112,"titleY":429,"titleAngle":270,"titleAlign":"center","titleBaseline":"alphabetic"}},"color":{"field":"t","type":"nominal","scale":{"domain":["-30 dB","-20 dB","-12 dB","-6 dB"],"range":["#1F30FF","#66FFCC","#DFFF00","#FF0000"]},"legend":null}}},
{"data":{"name":"sim"},"transform":[{"filter":"datum.p==='c' && datum.s==='U'"}],"mark":{"type":"line","strokeWidth":8,"strokeDash":[26,14]},"encoding":{"x":{"field":"x","type":"quantitative","scale":{"domain":[-21,21],"nice":false,"zero":false},"axis":null},"y":{"field":"y","type":"quantitative","scale":{"domain":[-40,0],"nice":false,"zero":false},"axis":null},"color":{"field":"t","type":"nominal","scale":{"domain":["-30 dB","-20 dB","-12 dB","-6 dB"],"range":["#1F30FF","#66FFCC","#DFFF00","#FF0000"]},"legend":null}}},
{"data":{"name":"sim"},"transform":[{"filter":"datum.p==='c' && datum.s==='U'"}],"mark":{"type":"errorbar","ticks":true,"size":40,"thickness":6},"encoding":{"x":{"field":"x","type":"quantitative","scale":{"domain":[-21,21],"nice":false,"zero":false},"axis":null},"y":{"field":"lo","type":"quantitative","scale":{"domain":[-40,0],"nice":false,"zero":false},"axis":null},"y2":{"field":"hi"},"color":{"field":"t","type":"nominal","scale":{"domain":["-30 dB","-20 dB","-12 dB","-6 dB"],"range":["#1F30FF","#66FFCC","#DFFF00","#FF0000"]},"legend":null}}},
{"data":{"name":"sim"},"transform":[{"filter":"datum.p==='c' && datum.s==='L'"}],"mark":{"type":"line","strokeWidth":2.5,"strokeDash":[16,11]},"encoding":{"x":{"field":"x","type":"quantitative","scale":{"domain":[-21,21],"nice":false,"zero":false},"axis":null},"y":{"field":"y","type":"quantitative","scale":{"domain":[-40,0],"nice":false,"zero":false},"axis":null},"color":{"field":"t","type":"nominal","scale":{"domain":["-30 dB","-20 dB","-12 dB","-6 dB"],"range":["#1F30FF","#66FFCC","#DFFF00","#FF0000"]},"legend":null}}},
{"data":{"name":"sim"},"transform":[{"filter":"datum.p==='c' && datum.s==='L'"}],"mark":{"type":"errorbar","ticks":true,"size":40,"thickness":2.5},"encoding":{"x":{"field":"x","type":"quantitative","scale":{"domain":[-21,21],"nice":false,"zero":false},"axis":null},"y":{"field":"lo","type":"quantitative","scale":{"domain":[-40,0],"nice":false,"zero":false},"axis":null},"y2":{"field":"hi"},"color":{"field":"t","type":"nominal","scale":{"domain":["-30 dB","-20 dB","-12 dB","-6 dB"],"range":["#1F30FF","#66FFCC","#DFFF00","#FF0000"]},"legend":null}}},
{"data":{"name":"sim"},"transform":[{"filter":"datum.p==='c' && datum.s==='L'"}],"mark":{"type":"point","filled":true,"size":314,"opacity":1},"encoding":{"x":{"field":"x","type":"quantitative","scale":{"domain":[-21,21],"nice":false,"zero":false},"axis":null},"y":{"field":"y","type":"quantitative","scale":{"domain":[-40,0],"nice":false,"zero":false},"axis":null},"color":{"field":"t","type":"nominal","scale":{"domain":["-30 dB","-20 dB","-12 dB","-6 dB"],"range":["#1F30FF","#66FFCC","#DFFF00","#FF0000"]},"legend":null}}},
{"data":{"name":"sim"},"transform":[{"filter":"datum.p==='c' && datum.s==='C'"}],"mark":{"type":"line","strokeWidth":2.5,"strokeDash":[16,11]},"encoding":{"x":{"field":"x","type":"quantitative","scale":{"domain":[-21,21],"nice":false,"zero":false},"axis":null},"y":{"field":"y","type":"quantitative","scale":{"domain":[-40,0],"nice":false,"zero":false},"axis":null},"color":{"field":"t","type":"nominal","scale":{"domain":["-30 dB","-20 dB","-12 dB","-6 dB"],"range":["#1F30FF","#66FFCC","#DFFF00","#FF0000"]},"legend":null}}},
{"data":{"name":"sim"},"transform":[{"filter":"datum.p==='c' && datum.s==='C'"}],"mark":{"type":"errorbar","ticks":true,"size":40,"thickness":2.5},"encoding":{"x":{"field":"x","type":"quantitative","scale":{"domain":[-21,21],"nice":false,"zero":false},"axis":null},"y":{"field":"lo","type":"quantitative","scale":{"domain":[-40,0],"nice":false,"zero":false},"axis":null},"y2":{"field":"hi"},"color":{"field":"t","type":"nominal","scale":{"domain":["-30 dB","-20 dB","-12 dB","-6 dB"],"range":["#1F30FF","#66FFCC","#DFFF00","#FF0000"]},"legend":null}}},
{"data":{"name":"sim"},"transform":[{"filter":"datum.p==='c' && datum.s==='C'"}],"mark":{"type":"point","filled":false,"fill":"white","strokeWidth":2.5,"size":314,"opacity":1},"encoding":{"x":{"field":"x","type":"quantitative","scale":{"domain":[-21,21],"nice":false,"zero":false},"axis":null},"y":{"field":"y","type":"quantitative","scale":{"domain":[-40,0],"nice":false,"zero":false},"axis":null},"color":{"field":"t","type":"nominal","scale":{"domain":["-30 dB","-20 dB","-12 dB","-6 dB"],"range":["#1F30FF","#66FFCC","#DFFF00","#FF0000"]},"legend":null}}},
{"data":{"values":[{}]},"mark":{"type":"text","text":"X","align":"left","baseline":"alphabetic","font":"DejaVu Sans","fontSize":40,"color":"#262626"},"encoding":{"x":{"datum":1.98,"type":"quantitative","scale":{"domain":[-21,21],"nice":false,"zero":false},"axis":{"orient":"top","values":[-20,-10,0,10,20],"labels":false,"ticks":true,"tickSize":-10,"grid":false,"domain":false,"title":null}},"y":{"datum":-47.74,"type":"quantitative","scale":{"domain":[-40,0],"nice":false,"zero":false},"axis":{"orient":"right","values":[0,-10,-20,-30,-40],"labels":false,"ticks":true,"tickSize":-10,"grid":false,"domain":false,"title":null}}}}
]}
]
}
